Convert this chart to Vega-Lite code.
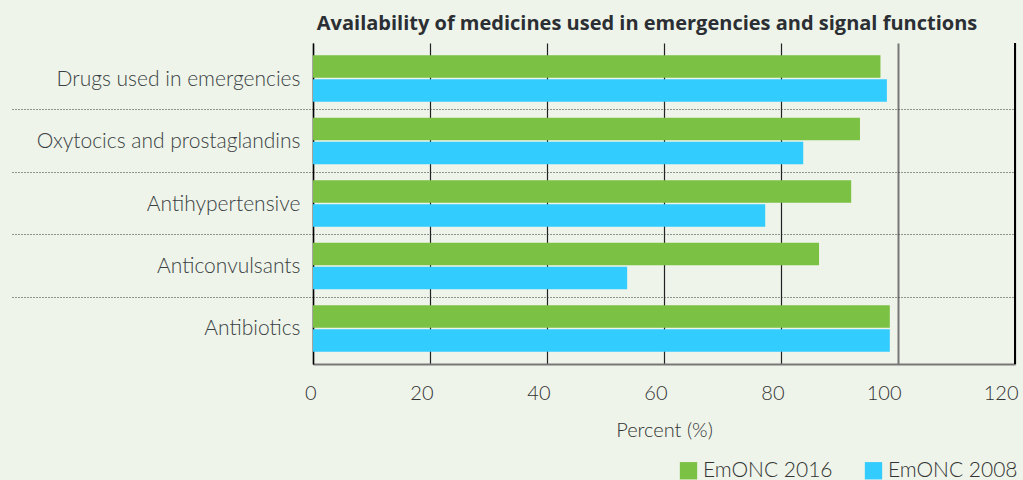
{
  "$schema": "https://vega.github.io/schema/vega-lite/v6.json",
  "autosize": "none",
  "width": 702,
  "height": 321,
  "padding": {"left": 313, "top": 43, "right": 8, "bottom": 116},
  "background": "#eef4ea",
  "title": {
    "text": "Availability of medicines used in emergencies and signal functions",
    "font": "Open Sans",
    "fontSize": 20,
    "fontWeight": "bold",
    "color": "#2b2f33",
    "anchor": "middle",
    "dx": -17,
    "offset": 8
  },
  "config": {
    "view": {"stroke": null},
    "font": "Lato"
  },
  "data": {
    "values": [
      {"category": "Drugs used in emergencies", "survey": "EmONC 2016", "percent": 97},
      {"category": "Drugs used in emergencies", "survey": "EmONC 2008", "percent": 98.1},
      {"category": "Oxytocics and prostaglandins", "survey": "EmONC 2016", "percent": 93.5},
      {"category": "Oxytocics and prostaglandins", "survey": "EmONC 2008", "percent": 83.8},
      {"category": "Antihypertensive", "survey": "EmONC 2016", "percent": 92},
      {"category": "Antihypertensive", "survey": "EmONC 2008", "percent": 77.3},
      {"category": "Anticonvulsants", "survey": "EmONC 2016", "percent": 86.5},
      {"category": "Anticonvulsants", "survey": "EmONC 2008", "percent": 53.7},
      {"category": "Antibiotics", "survey": "EmONC 2016", "percent": 98.6},
      {"category": "Antibiotics", "survey": "EmONC 2008", "percent": 98.6}
    ]
  },
  "layer": [
    {
      "mark": {"type": "bar"},
      "encoding": {
        "y": {
          "field": "category",
          "type": "nominal",
          "sort": ["Drugs used in emergencies", "Oxytocics and prostaglandins", "Antihypertensive", "Anticonvulsants", "Antibiotics"],
          "scale": {"paddingInner": 0, "paddingOuter": 0.07},
          "axis": {
            "title": null,
            "domain": true,
            "domainColor": "#000000",
            "domainWidth": 1.5,
            "bandPosition": 1,
            "tickExtra": false,
            "ticks": true,
            "tickSize": 301,
            "tickWidth": 1,
            "tickDash": [1, 2],
            "tickColor": {"condition": {"test": "datum.value === 'Antibiotics'", "value": "transparent"}, "value": "#333333"},
            "grid": true,
            "gridDash": [1, 2],
            "gridWidth": 1,
            "gridColor": {"condition": {"test": "datum.value === 'Antibiotics'", "value": "transparent"}, "value": "#333333"},
            "labelPadding": -288,
            "labelOffset": 1,
            "labelFont": "Lato",
            "labelFontSize": 21,
            "labelFontWeight": 300,
            "labelColor": "#3a3f43",
            "labelLimit": 400
          }
        },
        "yOffset": {
          "field": "survey",
          "type": "nominal",
          "sort": ["EmONC 2016", "EmONC 2008"],
          "scale": {"paddingInner": 0.0625, "paddingOuter": 0.332}
        },
        "x": {
          "field": "percent",
          "type": "quantitative",
          "scale": {"domain": [0, 120], "nice": false},
          "axis": {
            "title": "Percent (%)",
            "values": [0, 20, 40, 60, 80, 100, 120],
            "ticks": false,
            "domain": true,
            "domainColor": "#777777",
            "domainWidth": 2,
            "grid": true,
            "gridColor": {"condition": {"test": "datum.value === 100", "value": "#777777"}, "value": "#222222"},
            "gridWidth": {"condition": {"test": "datum.value === 100", "value": 2}, "value": 1.2},
            "labelPadding": 19,
            "labelAlign": "right",
            "labelOffset": 3,
            "labelFont": "Lato",
            "labelFontSize": 20,
            "labelFontWeight": 300,
            "labelColor": "#333333",
            "labelFlush": false,
            "titleFont": "Lato",
            "titleFontSize": 20,
            "titleFontWeight": 300,
            "titleColor": "#333333",
            "titlePadding": 17
          }
        },
        "color": {
          "field": "survey",
          "type": "nominal",
          "scale": {"domain": ["EmONC 2016", "EmONC 2008"], "range": ["#7bc143", "#33ccff"]},
          "legend": {
            "title": null,
            "orient": "none",
            "direction": "horizontal",
            "legendX": 365,
            "legendY": 417,
            "symbolType": "square",
            "symbolSize": 300,
            "symbolStrokeWidth": 0,
            "labelFont": "Lato",
            "labelFontSize": 21,
            "labelFontWeight": 300,
            "labelColor": "#333333",
            "labelOffset": 4,
            "columnPadding": 30
          }
        }
      }
    },
    {
      "mark": {"type": "rule", "color": "#000000", "strokeWidth": 1.5},
      "encoding": {"x": {"datum": 120, "type": "quantitative"}}
    }
  ]
}
